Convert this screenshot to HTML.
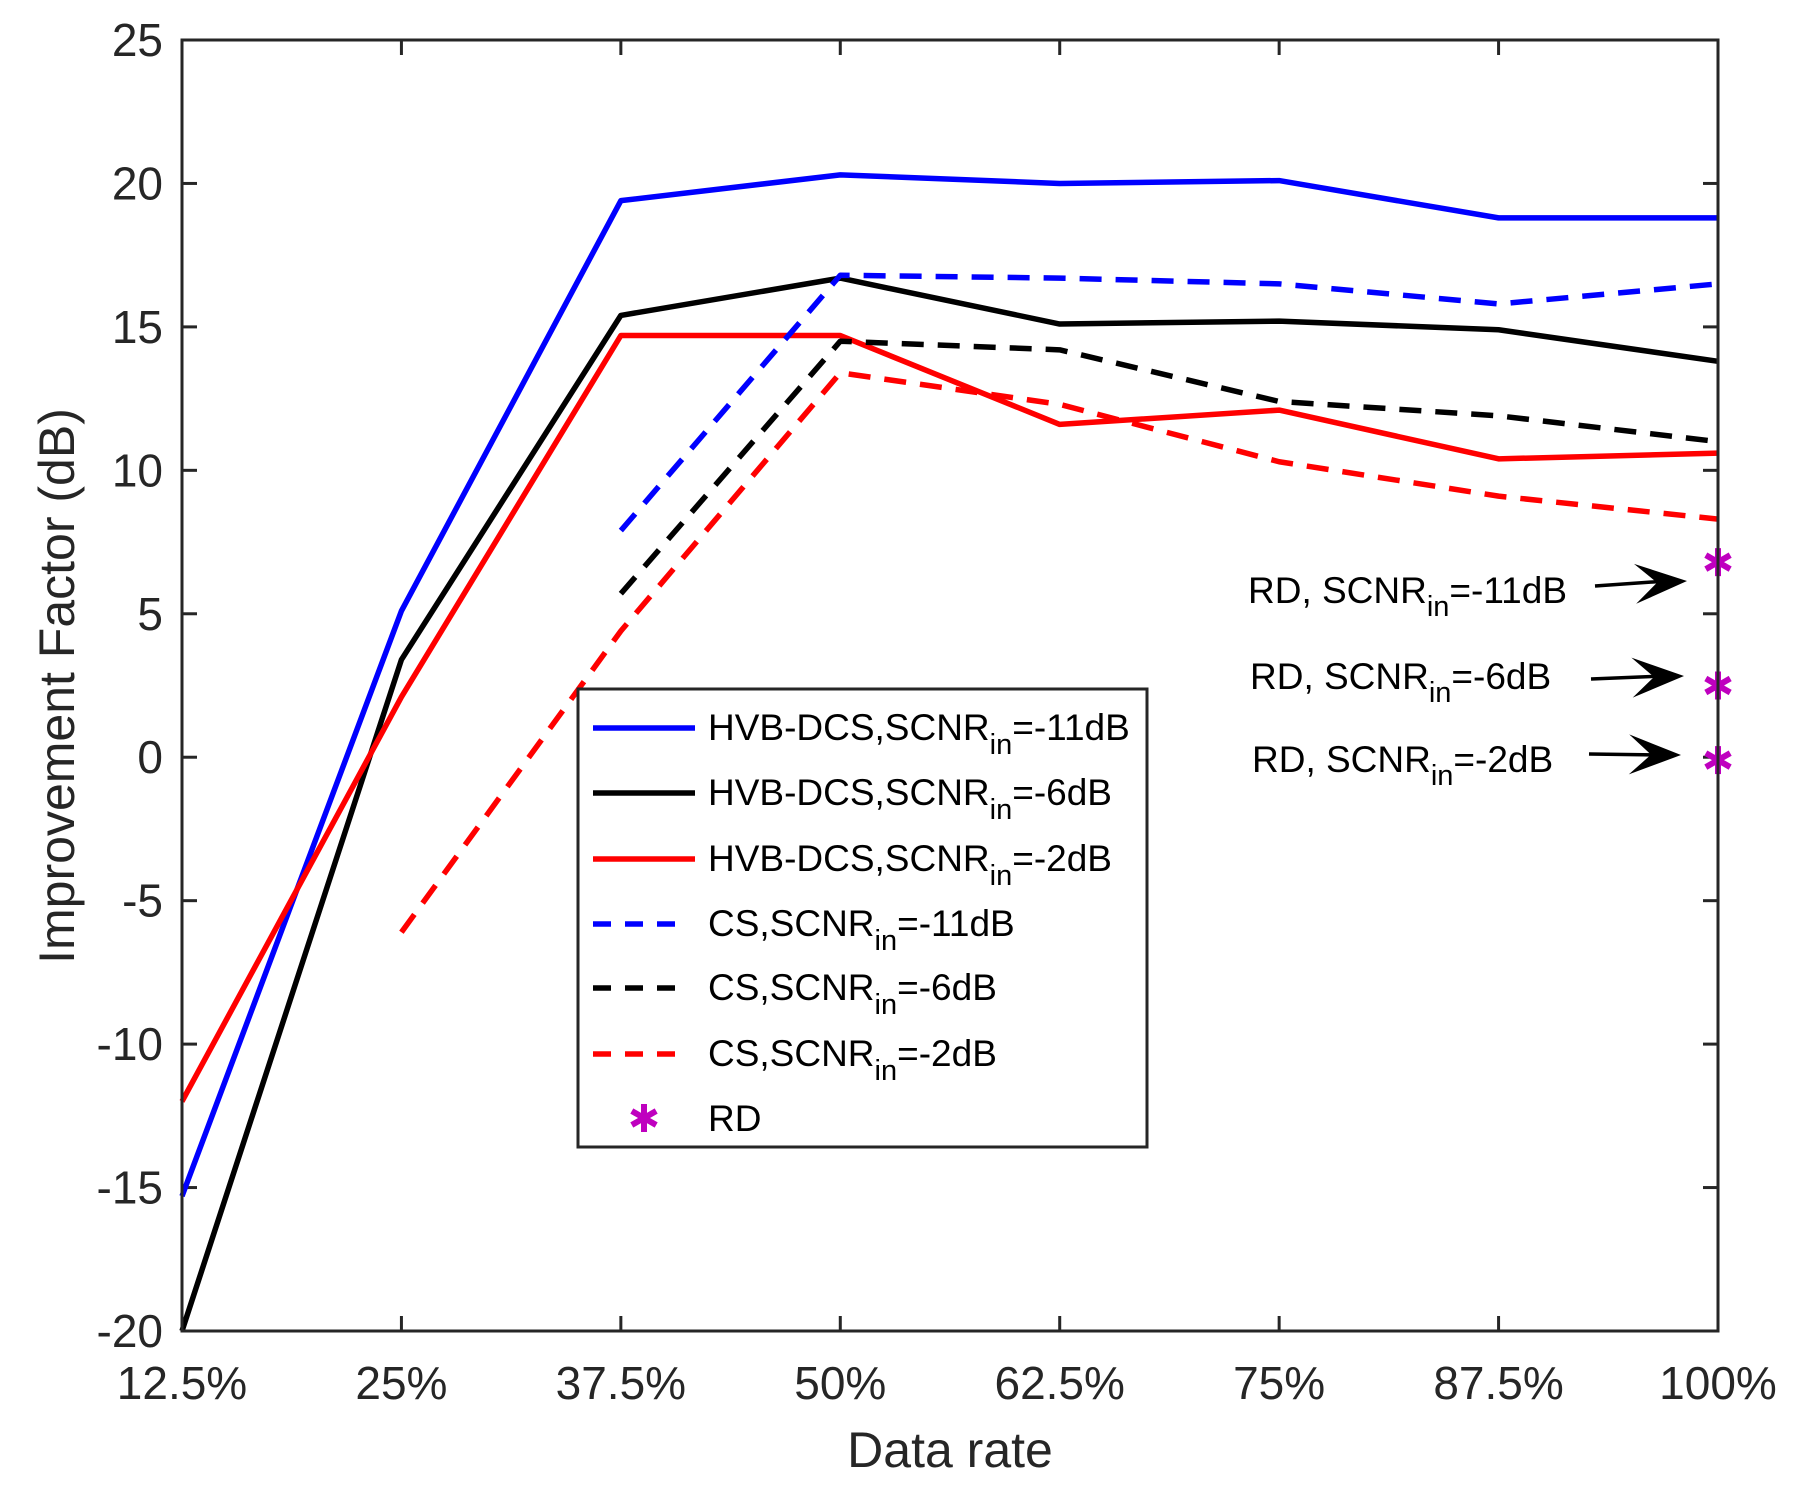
<!DOCTYPE html>
<html><head><meta charset="utf-8"><style>
html,body{margin:0;padding:0;background:#fff;}
svg{display:block;font-family:"Liberation Sans",Arial,sans-serif;}
</style></head><body>
<svg id="chart" width="1801" height="1492" viewBox="0 0 1801 1492" xmlns="http://www.w3.org/2000/svg">
<rect x="0" y="0" width="1801" height="1492" fill="#fff"/>
<g id="plot"></g>
</svg>
<script>
const categories = ["12.5%","25%","37.5%","50%","62.5%","75%","87.5%","100%"];
const yTicks = [-20,-15,-10,-5,0,5,10,15,20,25];
const hvb11 = [-15.3,5.1,19.4,20.3,20.0,20.1,18.8,18.8];
const hvb6 = [-20,3.4,15.4,16.7,15.1,15.2,14.9,13.8];
const hvb2 = [-12,2.1,14.7,14.7,11.6,12.1,10.4,10.6];
const cs11 = [null,null,7.9,16.8,16.7,16.5,15.8,16.5];
const cs6 = [null,null,5.7,14.5,14.2,12.4,11.9,11.0];
const cs2 = [null,-6.1,4.4,13.4,12.3,10.3,9.1,8.3];
const rdValues = [6.8,2.5,-0.1];

const L=182,R=1718,T=40,B=1331,yMin=-20,yMax=25;
const NS="http://www.w3.org/2000/svg";
const g=document.getElementById('plot');
function xs(i){return L+(R-L)*i/(categories.length-1);}
function ys(v){return B-(v-yMin)/(yMax-yMin)*(B-T);}
function mk(tag,attrs,parent){const e=document.createElementNS(NS,tag);for(const k in attrs)e.setAttribute(k,attrs[k]);(parent||g).appendChild(e);return e;}

categories.forEach((c,i)=>{
  const x=xs(i);
  const t1=mk('line',{x1:x,x2:x,y1:B,y2:B-15,stroke:'#262626','stroke-width':3});
  
  
  const t2=mk('line',{x1:x,x2:x,y1:T,y2:T+15,stroke:'#262626','stroke-width':3});
  
  
  const tx=mk('text',{x:x,y:1399,'text-anchor':'middle','font-size':46,fill:'#262626'});
  tx.textContent=c;
  
  
});
yTicks.forEach(v=>{
  const y=ys(v);
  const t1=mk('line',{x1:L,x2:L+15,y1:y,y2:y,stroke:'#262626','stroke-width':3});
  
  
  const t2=mk('line',{x1:R,x2:R-15,y1:y,y2:y,stroke:'#262626','stroke-width':3});
  
  
  const tx=mk('text',{x:163,y:y+16,'text-anchor':'end','font-size':46,fill:'#262626'});
  tx.textContent=String(v);
  
  
});

function series(arr,color,dash,name){
  let pts=[];
  arr.forEach((v,i)=>{if(v!==null)pts.push(xs(i)+','+ys(v));});
  const p=mk('polyline',{points:pts.join(' '),fill:'none',stroke:color,'stroke-width':5.5,'stroke-linejoin':'round'});
  if(dash)p.setAttribute('stroke-dasharray','22 14');
  
  
}
series(hvb11,'#0000ff',false,'hvb-dcs-11db-line');
series(hvb6,'#000000',false,'hvb-dcs-6db-line');
series(hvb2,'#ff0000',false,'hvb-dcs-2db-line');
series(cs11,'#0000ff',true,'cs-11db-line');
series(cs6,'#000000',true,'cs-6db-line');
series(cs2,'#ff0000',true,'cs-2db-line');

function star(x,y,parent){
  const s=mk('g',{stroke:'#bf00bf','stroke-width':6},parent);
  const r=14;
  [[0,-r,0,r],[-r*0.87,-r*0.5,r*0.87,r*0.5],[-r*0.87,r*0.5,r*0.87,-r*0.5]].forEach(a=>mk('line',{x1:x+a[0],y1:y+a[1],x2:x+a[2],y2:y+a[3]},s));
  return s;
}
rdValues.forEach(v=>{
  const s=star(xs(7),ys(v));
  
  
});

const box=mk('rect',{x:L,y:T,width:R-L,height:B-T,fill:'none',stroke:'#262626','stroke-width':3});



const ann=[["-11dB",1248,603,1595,586,1687,581],["-6dB",1250,689,1591,679,1684,676],["-2dB",1252,772,1589,754,1681,755]];
ann.forEach(a=>{
  const t=mk('text',{x:a[1],y:a[2],'font-size':37,fill:'#000'});
  t.innerHTML='RD, SCNR<tspan dy="13" font-size="29">in</tspan><tspan dy="-13">='+a[0]+'</tspan>';
  
  
  const ar=mk('g',{});
  
  
  mk('line',{x1:a[3],y1:a[4],x2:a[5]-20,y2:a[6],stroke:'#000','stroke-width':3.5},ar);
  const dx=a[5]-a[3],dy=a[6]-a[4],len=Math.hypot(dx,dy),ux=dx/len,uy=dy/len;
  const bx=a[5]-ux*52,by=a[6]-uy*52;
  mk('polygon',{points:`${a[5]},${a[6]} ${bx-uy*20},${by+ux*20} ${a[5]-ux*30},${a[6]-uy*30} ${bx+uy*20},${by-ux*20}`,fill:'#000'},ar);
});

const lg=mk('g',{});


mk('rect',{x:578,y:689,width:569,height:458,fill:'#fff',stroke:'#262626','stroke-width':3},lg);
const legItems=[["HVB-DCS,SCNR","=-11dB",'#0000ff',false],["HVB-DCS,SCNR","=-6dB",'#000',false],["HVB-DCS,SCNR","=-2dB",'#ff0000',false],["CS,SCNR","=-11dB",'#0000ff',true],["CS,SCNR","=-6dB",'#000',true],["CS,SCNR","=-2dB",'#ff0000',true]];
const rowY=[728,793,859,924,988,1054,1118];
legItems.forEach((it,i)=>{
  const e=mk('g',{},lg);
  
  
  const ln=mk('line',{x1:593,x2:it[3]?685:695,y1:rowY[i],y2:rowY[i],stroke:it[2],'stroke-width':5.5},e);
  if(it[3])ln.setAttribute('stroke-dasharray','18 14');
  const t=mk('text',{x:708,y:rowY[i]+12,'font-size':37,fill:'#000','textLength':0},e);
  t.removeAttribute('textLength');
  t.innerHTML=it[0]+'<tspan dy="14" font-size="29">in</tspan><tspan dy="-14">'+it[1]+'</tspan>';
});
const re=mk('g',{},lg);


star(644,rowY[6],re);
const rt=mk('text',{x:708,y:rowY[6]+13,'font-size':37,fill:'#000'},re);
rt.textContent='RD';

const xt=mk('text',{x:950,y:1467,'text-anchor':'middle','font-size':50,fill:'#262626'});
xt.textContent='Data rate';


const yt=mk('text',{x:0,y:0,'text-anchor':'middle','font-size':50,fill:'#262626',transform:'translate(74,686) rotate(-90)'});
yt.textContent='Improvement Factor (dB)';


</script>
</body></html>
